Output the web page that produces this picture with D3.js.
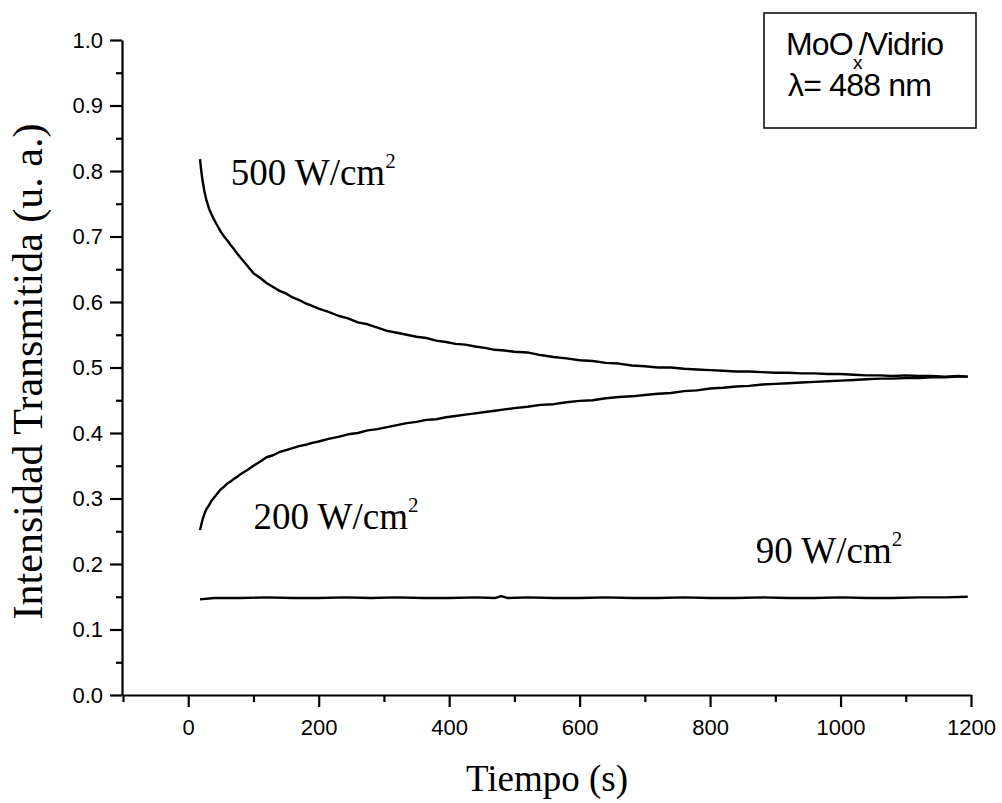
<!DOCTYPE html>
<html>
<head>
<meta charset="utf-8">
<script src="https://cdn.jsdelivr.net/npm/d3@7"></script>
<style>
html,body{margin:0;padding:0;background:#fff;}
svg{display:block;}
</style>
</head>
<body>
<svg id="chart" width="1002" height="803"></svg>
<script>
// ---- data ----
const time = [18,20,22,25,28,32,36,40,45,50,55,60,65,70,75,80,90,100,110,120,130,140,150,160,170,180,190,200,215,230,245,260,275,290,305,320,335,350,365,380,395,410,425,440,455,470,485,500,520,540,560,580,600,620,640,660,680,700,720,740,760,780,800,820,840,860,880,900,920,940,960,980,1000,1020,1040,1060,1080,1100,1120,1140,1160,1180,1195];
const i500 = [0.818,0.800,0.785,0.768,0.755,0.742,0.733,0.725,0.716,0.707,0.700,0.694,0.687,0.681,0.674,0.668,0.656,0.644,0.637,0.629,0.623,0.617,0.613,0.607,0.603,0.598,0.594,0.590,0.585,0.579,0.575,0.569,0.566,0.561,0.556,0.553,0.550,0.547,0.545,0.541,0.539,0.536,0.535,0.532,0.530,0.527,0.526,0.524,0.523,0.519,0.516,0.514,0.511,0.510,0.507,0.506,0.503,0.502,0.500,0.500,0.498,0.497,0.496,0.495,0.494,0.494,0.493,0.492,0.492,0.491,0.491,0.490,0.490,0.489,0.488,0.488,0.487,0.488,0.487,0.487,0.486,0.487,0.486];
const i200 = [0.252,0.260,0.268,0.277,0.284,0.290,0.297,0.302,0.308,0.314,0.318,0.323,0.326,0.330,0.333,0.337,0.343,0.350,0.356,0.363,0.366,0.371,0.374,0.377,0.380,0.382,0.385,0.387,0.391,0.394,0.398,0.400,0.404,0.406,0.409,0.412,0.415,0.417,0.420,0.421,0.424,0.426,0.428,0.430,0.432,0.434,0.436,0.438,0.440,0.443,0.444,0.447,0.449,0.450,0.453,0.455,0.456,0.458,0.460,0.461,0.464,0.465,0.468,0.469,0.471,0.472,0.474,0.475,0.476,0.477,0.478,0.479,0.480,0.481,0.482,0.483,0.483,0.484,0.484,0.485,0.485,0.486,0.486];
const time90 = [18,40,80,120,160,200,240,280,320,360,400,440,470,480,490,520,560,600,640,680,720,760,800,840,880,920,960,1000,1040,1080,1120,1160,1195];
const i90 = [0.146,0.148,0.148,0.149,0.148,0.148,0.149,0.148,0.149,0.148,0.148,0.149,0.148,0.151,0.148,0.149,0.148,0.148,0.149,0.148,0.148,0.149,0.148,0.148,0.149,0.148,0.148,0.149,0.148,0.148,0.149,0.149,0.150];
const xMajor = [0,200,400,600,800,1000,1200];
const xMinor = [-100,100,300,500,700,900,1100];
const yMajor = [0.0,0.1,0.2,0.3,0.4,0.5,0.6,0.7,0.8,0.9,1.0];
const yMinor = [0.05,0.15,0.25,0.35,0.45,0.55,0.65,0.75,0.85,0.95];
const curveLabels = [
  {text:"500 W/cm", sup:"2", t:65, v:0.778},
  {text:"200 W/cm", sup:"2", t:100, v:0.254},
  {text:"90 W/cm", sup:"2", t:870, v:0.201}
];
const xTitle = "Tiempo (s)";
const yTitle = "Intensidad Transmitida (u. a.)";

// ---- chart ----
const svg = d3.select("#chart");
svg.append("rect").attr("width",1002).attr("height",803).attr("fill","#fff");

const x = d3.scaleLinear().domain([-100,1200]).range([123,971]);
const y = d3.scaleLinear().domain([0,1]).range([695,40]);
const sans = "'Liberation Sans', Arial, sans-serif";
const serif = "'Liberation Serif', 'Times New Roman', serif";

function styleAxis(g){
  g.selectAll("path").attr("stroke","#000").attr("stroke-width",2.2);
  g.selectAll("line").attr("stroke","#000").attr("stroke-width",2.2);
  g.selectAll("text").attr("font-family",sans).attr("font-size",22).attr("fill","#000");
}

// x axis
const gxMinor = svg.append("g").attr("transform","translate(0,695)")
  .call(d3.axisBottom(x).tickValues(xMinor).tickSize(7).tickSizeOuter(0).tickFormat(""));
styleAxis(gxMinor);
gxMinor.select("path").remove();
const gx = svg.append("g").attr("transform","translate(0,695)")
  .call(d3.axisBottom(x).tickValues(xMajor).tickSize(12).tickSizeOuter(0).tickPadding(12).tickFormat(d3.format("d")));
styleAxis(gx);

// y axis
const gyMinor = svg.append("g").attr("transform","translate(122,0)")
  .call(d3.axisLeft(y).tickValues(yMinor).tickSize(6).tickSizeOuter(0).tickFormat(""));
styleAxis(gyMinor);
gyMinor.select("path").remove();
const gy = svg.append("g").attr("transform","translate(122,0)")
  .call(d3.axisLeft(y).tickValues(yMajor).tickSize(12).tickSizeOuter(0).tickPadding(7).tickFormat(d3.format(".1f")));
styleAxis(gy);

// lines
const line = d3.line().x(d=>x(d[0])).y(d=>y(d[1]));
const series = [
  d3.zip(time,i500),
  d3.zip(time,i200),
  d3.zip(time90,i90)
];
svg.selectAll("path.curve").data(series).join("path")
  .attr("class","curve")
  .attr("d",line)
  .attr("fill","none")
  .attr("stroke","#000")
  .attr("stroke-width",2.4)
  .attr("stroke-linejoin","round");

// curve labels
curveLabels.forEach(l=>{
  const t = svg.append("text")
    .attr("x",x(l.t)).attr("y",y(l.v))
    .attr("font-family",serif).attr("font-size",37).attr("fill","#000");
  t.append("tspan").text(l.text);
  t.append("tspan").attr("font-size",21).attr("dy",-17).text(l.sup);
});

// axis titles
svg.append("text")
  .attr("x",(x(-100)+x(1200))/2).attr("y",791)
  .attr("text-anchor","middle")
  .attr("font-family",serif).attr("font-size",37).attr("fill","#000")
  .text(xTitle);
svg.append("text")
  .attr("transform",`translate(42,${(y(0)+y(1))/2 + 4}) rotate(-90)`)
  .attr("text-anchor","middle")
  .attr("font-family",serif).attr("font-size",42).attr("fill","#000")
  .text(yTitle);

// legend box
svg.append("rect").attr("x",764).attr("y",13).attr("width",212).attr("height",115)
  .attr("fill","#fff").attr("stroke","#000").attr("stroke-width",1.5);
const t1 = svg.append("text").attr("x",786).attr("y",55)
  .attr("font-family",sans).attr("font-size",32).attr("fill","#000").attr("letter-spacing",-0.8);
t1.append("tspan").text("MoO");
t1.append("tspan").attr("font-size",19).attr("dy",14).text("x");
t1.append("tspan").attr("dy",-14).attr("dx",-3).text("/Vidrio");
svg.append("text").attr("x",788).attr("y",96)
  .attr("font-family",sans).attr("font-size",32).attr("fill","#000").attr("letter-spacing",-0.8)
  .text("λ= 488 nm");
</script>
</body>
</html>
